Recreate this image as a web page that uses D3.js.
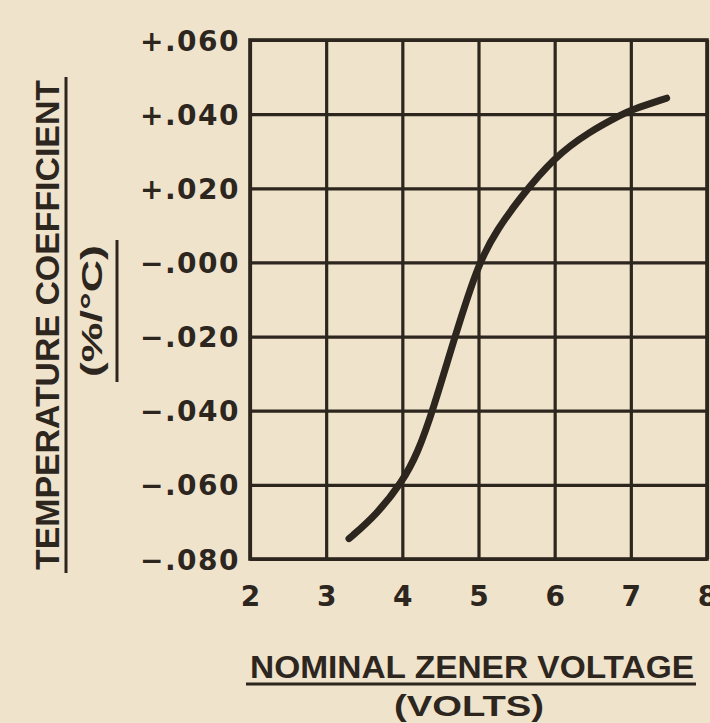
<!DOCTYPE html>
<html>
<head>
<meta charset="utf-8">
<script src="https://cdn.jsdelivr.net/npm/d3@7"></script>
<style>
  html, body { margin: 0; padding: 0; background: #efe3cb; }
  svg { display: block; }
</style>
</head>
<body>
<svg id="chart" width="710" height="723"></svg>
<script>
// ---- data ----
const xTicks = [2, 3, 4, 5, 6, 7, 8];
const xTickLabels = ["2", "3", "4", "5", "6", "7", "8"];
const yTicks = [-0.08, -0.06, -0.04, -0.02, 0, 0.02, 0.04, 0.06];
const yTickLabels = ["\u2212.080", "\u2212.060", "\u2212.040", "\u2212.020", "\u2212.000", "+.020", "+.040", "+.060"];
const voltage  = [3.3, 3.65, 4.0, 4.2, 4.4, 4.69, 5.0, 5.25, 5.54, 6.0, 6.45, 6.89, 7.0, 7.47];
const tempCoef = [-0.0745, -0.0683, -0.0592, -0.0515, -0.040, -0.020, 0.000, 0.009, 0.0173, 0.0285, 0.0352, 0.040, 0.0411, 0.0443];
const xTitle = "NOMINAL ZENER VOLTAGE";
const xSub = "(VOLTS)";
const yTitle = "TEMPERATURE COEFFICIENT";
const ySub = "(%/°C)";

// ---- layout ----
const ink = "#2d261f";
const pL = 250, pR = 707, pT = 40, pB = 559;
const svg = d3.select("#chart");
svg.append("rect").attr("width", 710).attr("height", 723).attr("fill", "#efe3cb");

const x = d3.scaleLinear().domain([2, 8]).range([pL, pR]);
const y = d3.scaleLinear().domain([-0.08, 0.06]).range([pB, pT]);

// grid via axes
const gx = svg.append("g").attr("transform", `translate(0,${pB})`)
  .call(d3.axisBottom(x).tickValues(xTicks).tickSize(-(pB - pT)).tickFormat((d, i) => xTickLabels[i]));
const gy = svg.append("g").attr("transform", `translate(${pL},0)`)
  .call(d3.axisLeft(y).tickValues(yTicks).tickSize(-(pR - pL)).tickFormat((d, i) => yTickLabels[i]));

[gx, gy].forEach(g => {
  g.select(".domain").remove();
  g.selectAll(".tick line").attr("stroke", ink).attr("stroke-width", 3.2);
  g.selectAll(".tick text")
    .attr("fill", ink)
    .style("font-family", "'DejaVu Sans', sans-serif")
    .style("font-weight", "bold")
    .style("font-size", "28px");
});
gx.selectAll(".tick text").attr("dy", 0).attr("y", 47);
gy.selectAll(".tick text").attr("x", -10).attr("dy", "0.36em").style("letter-spacing", "1.5px");

// frame
svg.append("rect")
  .attr("x", pL).attr("y", pT)
  .attr("width", pR - pL).attr("height", pB - pT)
  .attr("fill", "none").attr("stroke", ink).attr("stroke-width", 3.6);

// curve
const pts = voltage.map((v, i) => [v, tempCoef[i]]);
svg.append("path")
  .datum(pts)
  .attr("fill", "none")
  .attr("stroke", ink)
  .attr("stroke-width", 7)
  .attr("stroke-linecap", "round")
  .attr("d", d3.line().x(d => x(d[0])).y(d => y(d[1])).curve(d3.curveBasis));

// titles
const tf = "'Liberation Sans', Arial, sans-serif";
svg.append("text")
  .attr("x", 250).attr("y", 678)
  .attr("textLength", 444).attr("lengthAdjust", "spacingAndGlyphs")
  .attr("fill", ink).style("font-family", tf).style("font-weight", "bold").style("font-size", "31px")
  .text(xTitle);
svg.append("line").attr("x1", 246).attr("x2", 696).attr("y1", 684).attr("y2", 684)
  .attr("stroke", ink).attr("stroke-width", 3);
svg.append("text")
  .attr("x", 394).attr("y", 716)
  .attr("textLength", 150).attr("lengthAdjust", "spacingAndGlyphs")
  .attr("fill", ink).style("font-family", tf).style("font-weight", "bold").style("font-size", "30px")
  .text(xSub);

const yt = svg.append("g").attr("transform", "translate(59,325) rotate(-90)");
yt.append("text")
  .attr("x", -245).attr("y", 0)
  .attr("textLength", 490).attr("lengthAdjust", "spacingAndGlyphs")
  .attr("fill", ink).style("font-family", tf).style("font-weight", "bold").style("font-size", "33px")
  .text(yTitle);
yt.append("line").attr("x1", -248).attr("x2", 248).attr("y1", 7).attr("y2", 7)
  .attr("stroke", ink).attr("stroke-width", 3);

const ys = svg.append("g").attr("transform", "translate(102,311) rotate(-90)");
ys.append("text")
  .attr("x", -66).attr("y", 0)
  .attr("textLength", 132).attr("lengthAdjust", "spacingAndGlyphs")
  .attr("fill", ink).style("font-family", tf).style("font-weight", "bold").style("font-size", "29px")
  .text(ySub);
ys.append("line").attr("x1", -71).attr("x2", 71).attr("y1", 15).attr("y2", 15)
  .attr("stroke", ink).attr("stroke-width", 3);
</script>
</body>
</html>
